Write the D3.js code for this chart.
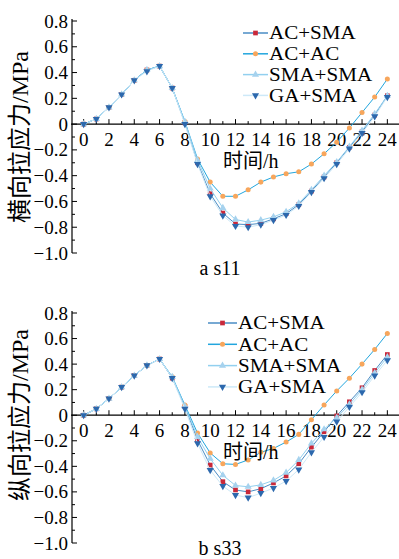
<!DOCTYPE html>
<html>
<head>
<meta charset="utf-8">
<script src="https://cdn.jsdelivr.net/npm/d3@7"></script>
<style>
  body { margin: 0; background: #fff; }
  svg { display: block; font-family: "Liberation Serif", "Times New Roman", "Noto Sans CJK SC", serif; }
</style>
</head>
<body>
<div class="vis"></div>
<script>
const hours = d3.range(0, 25);
const seriesNames = ["AC+SMA", "AC+AC", "SMA+SMA", "GA+SMA"];
const yTicks = [0.8, 0.6, 0.4, 0.2, 0, -0.2, -0.4, -0.6, -0.8, -1.0];
const xTicks = [0, 2, 4, 6, 8, 10, 12, 14, 16, 18, 20, 22, 24];

// s11, transverse
const s11AcSma = [0, 0.04, 0.13, 0.23, 0.34, 0.42, 0.45, 0.28, 0.01, -0.30, -0.54, -0.69, -0.775, -0.78, -0.77, -0.735, -0.695, -0.625, -0.52, -0.41, -0.30, -0.18, -0.06, 0.07, 0.22];
const s11AcAc = [0, 0.04, 0.13, 0.23, 0.34, 0.42, 0.45, 0.28, 0.02, -0.27, -0.45, -0.56, -0.56, -0.51, -0.45, -0.41, -0.385, -0.37, -0.31, -0.23, -0.14, -0.03, 0.09, 0.21, 0.35];
const s11SmaSma = [0, 0.04, 0.13, 0.23, 0.34, 0.42, 0.45, 0.28, 0.02, -0.28, -0.50, -0.65, -0.74, -0.76, -0.745, -0.72, -0.68, -0.615, -0.51, -0.40, -0.295, -0.175, -0.05, 0.08, 0.22];
const s11GaSma = [0, 0.04, 0.13, 0.23, 0.34, 0.41, 0.45, 0.28, 0.0, -0.31, -0.56, -0.71, -0.79, -0.80, -0.78, -0.745, -0.705, -0.635, -0.527, -0.42, -0.31, -0.19, -0.07, 0.06, 0.21];

// s33, longitudinal
const s33AcSma = [0, 0.05, 0.13, 0.22, 0.31, 0.39, 0.44, 0.29, 0.07, -0.195, -0.39, -0.52, -0.585, -0.60, -0.575, -0.53, -0.475, -0.38, -0.25, -0.13, -0.005, 0.105, 0.215, 0.35, 0.475];
const s33AcAc = [0, 0.05, 0.13, 0.22, 0.31, 0.39, 0.44, 0.30, 0.08, -0.14, -0.295, -0.38, -0.385, -0.35, -0.29, -0.26, -0.21, -0.15, -0.035, 0.08, 0.19, 0.29, 0.40, 0.515, 0.64];
const s33SmaSma = [0, 0.05, 0.13, 0.22, 0.31, 0.39, 0.44, 0.30, 0.07, -0.17, -0.34, -0.47, -0.55, -0.56, -0.545, -0.51, -0.45, -0.35, -0.22, -0.11, -0.02, 0.085, 0.20, 0.33, 0.455];
const s33GaSma = [0, 0.05, 0.13, 0.22, 0.31, 0.39, 0.44, 0.29, 0.05, -0.22, -0.43, -0.555, -0.625, -0.645, -0.61, -0.57, -0.515, -0.425, -0.29, -0.17, -0.05, 0.065, 0.18, 0.31, 0.43];

const styles = [
	{ line: "#4a8cc4", marker: "#c9283a", shape: d3.symbolSquare, size: 22 },
	{ line: "#22a6de", marker: "#f7a65c", shape: d3.symbolCircle, size: 20 },
	{ line: "#92d0ef", marker: "#a6d2ee", shape: d3.symbolTriangle, size: 22 },
	{ line: "#cde9f8", marker: "#2c68ad", shape: d3.symbolTriangle, size: 22, flip: true }
];

const W = 399, H = 559;
const svg = d3.select(".vis").append("svg").attr("width", W).attr("height", H);

const drawPanel = (cfg) => {
	const x = d3.scaleLinear().domain([-1, 25]).range([71, 400]);
	const y = d3.scaleLinear().domain([0.8, -1.0]).range([cfg.top, cfg.bottom]);
	const g = svg.append("g");

	// y axis
	g.append("line").attr("x1", 72).attr("x2", 72).attr("y1", y(0.8) - 2).attr("y2", y(-1.0))
		.attr("stroke", "#000").attr("stroke-width", 1.2);
	d3.range(-10, 9).forEach((i) => {
		const v = i / 10;
		const major = i % 2 === 0;
		g.append("line").attr("x1", 72).attr("x2", 72 + (major ? 5 : 3))
			.attr("y1", y(v)).attr("y2", y(v)).attr("stroke", "#000").attr("stroke-width", 1);
	});
	g.selectAll(".ylab").data(yTicks).join("text")
		.attr("x", 68).attr("y", (d) => y(d) + 6.5)
		.attr("text-anchor", "end").attr("font-size", 19)
		.text((d) => (d === 0 ? "0" : d.toFixed(1).replace("-", "\u2212")));

	// x axis at zero
	g.append("line").attr("x1", x(-1)).attr("x2", x(25)).attr("y1", y(0)).attr("y2", y(0))
		.attr("stroke", "#000").attr("stroke-width", 1.2);
	d3.range(0, 25).forEach((h) => {
		g.append("line").attr("x1", x(h)).attr("x2", x(h))
			.attr("y1", y(0)).attr("y2", y(0) - (h % 2 === 0 ? 5 : 3))
			.attr("stroke", "#000").attr("stroke-width", 1);
	});
	g.selectAll(".xlab").data(xTicks).join("text")
		.attr("x", (d) => x(d)).attr("y", y(0) + 22)
		.attr("text-anchor", "middle").attr("font-size", 19)
		.text((d) => d);

	// series
	const line = d3.line().x((d, i) => x(hours[i])).y((d) => y(d));
	cfg.series.forEach((vals, k) => {
		const st = styles[k];
		g.append("path").datum(vals).attr("d", line)
			.attr("fill", "none").attr("stroke", st.line).attr("stroke-width", 1);
		g.selectAll(".m" + k).data(vals).join("path")
			.attr("d", d3.symbol().type(st.shape).size(st.size))
			.attr("transform", (d, i) => `translate(${x(hours[i])},${y(d)})${st.flip ? " rotate(180)" : ""}`)
			.attr("fill", st.marker);
	});

	// legend
	seriesNames.forEach((name, k) => {
		const st = styles[k];
		const ly = cfg.legY + k * cfg.legGap;
		g.append("line").attr("x1", cfg.legX).attr("x2", cfg.legX + cfg.legW)
			.attr("y1", ly).attr("y2", ly).attr("stroke", st.line).attr("stroke-width", 1.5);
		g.append("path").attr("d", d3.symbol().type(st.shape).size(st.size)())
			.attr("transform", `translate(${cfg.legX + cfg.legW / 2},${ly})${st.flip ? " rotate(180)" : ""}`)
			.attr("fill", st.marker);
		g.append("text")
			.attr("transform", `translate(${cfg.legX + cfg.legW + 1},${ly + 6.3}) scale(1.17,1)`)
			.attr("font-size", 18).text(name);
	});

	// titles
	g.append("text").attr("x", 223).attr("y", y(0) + 44).attr("font-size", 20).text("时间/h");
	g.append("text").attr("transform", `translate(28,${cfg.titleY}) rotate(-90)`)
		.attr("text-anchor", "middle").attr("font-size", 24).text(cfg.yTitle);
	g.append("text").attr("x", 220).attr("y", cfg.capY).attr("text-anchor", "middle")
		.attr("font-size", 20).text(cfg.caption);
};

drawPanel({
	top: 21, bottom: 253,
	series: [s11AcSma, s11AcAc, s11SmaSma, s11GaSma],
	legX: 243, legW: 25, legY: 33, legGap: 20.8,
	yTitle: "横向拉应力/MPa", titleY: 137,
	caption: "a s11", capY: 275
});

drawPanel({
	top: 313, bottom: 543,
	series: [s33AcSma, s33AcAc, s33SmaSma, s33GaSma],
	legX: 208, legW: 29, legY: 323, legGap: 21.3,
	yTitle: "纵向拉应力/MPa", titleY: 415,
	caption: "b s33", capY: 555
});
</script>
</body>
</html>
